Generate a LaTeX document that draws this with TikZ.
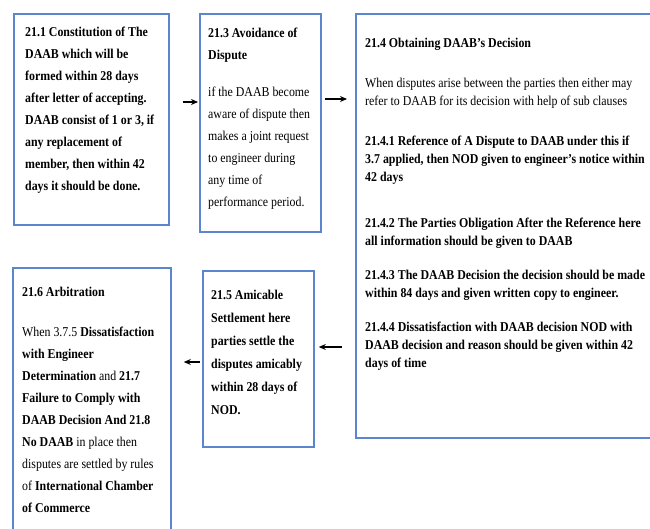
\documentclass[tikz,border=0pt]{standalone}
\usepackage{fontspec}
\setmainfont{Liberation Serif}[FakeStretch=0.88]
\usetikzlibrary{arrows.meta}
\definecolor{boxblue}{RGB}{92,133,208}
\begin{document}
\begin{tikzpicture}[x=1pt,y=-1pt,
  boxframe/.style={draw=boxblue, line width=1.8pt, fill=white, anchor=north west, inner sep=0pt},
  txt/.style={anchor=north west, inner sep=0pt, align=left, font=\fontsize{13.5}{22}\selectfont},
  txtsingle/.style={txt, font=\fontsize{13.5}{18}\selectfont},
  txtwide/.style={txt, font=\fontsize{13.5}{23}\selectfont},
  arr/.style={-{Stealth[length=7pt,width=6pt]}, line width=1.1pt, black}]
\clip (0,0) rectangle (650,529);
\fill[white] (0,0) rectangle (650,529);
% boxes
\node[boxframe, minimum width=155pt, minimum height=211pt] (b1) at (13,13) {};
\node[boxframe, minimum width=121pt, minimum height=218pt] (b2) at (199,13) {};
\node[boxframe, minimum width=310pt, minimum height=424pt] (b3) at (355,13) {};
\node[boxframe, minimum width=158pt, minimum height=290pt] (b4) at (12,267) {};
\node[boxframe, minimum width=111pt, minimum height=176pt] (b5) at (202,270) {};
% texts (north west = first baseline minus 9.3)
\node[txt] (t1) at (25,26.7) {\bfseries 21.1 Constitution of The\\\bfseries DAAB which will be\\\bfseries formed within 28 days\\\bfseries after letter of accepting.\\\bfseries DAAB consist of 1 or 3, if\\\bfseries any replacement of\\\bfseries member, then within 42\\\bfseries days it should be done.};
\node[txt] (t2) at (208,27.7) {\bfseries 21.3 Avoidance of\\\bfseries Dispute\\[15pt]if the DAAB become\\aware of dispute then\\makes a joint request\\to engineer during\\any time of\\performance period.};
\node[txtsingle] (t3) at (365,37.7) {\bfseries 21.4 Obtaining DAAB’s Decision\\[22pt]When disputes arise between the parties then either may\\refer to DAAB for its decision with help of sub clauses\\[22pt]\bfseries 21.4.1 Reference of A Dispute to DAAB under this if\\\bfseries 3.7 applied, then NOD given to engineer’s notice within\\\bfseries 42 days\\[28pt]\bfseries 21.4.2 The Parties Obligation After the Reference here\\\bfseries all information should be given to DAAB\\[16pt]\bfseries 21.4.3 The DAAB Decision the decision should be made\\\bfseries within 84 days and given written copy to engineer.\\[16pt]\bfseries 21.4.4 Dissatisfaction with DAAB decision NOD with\\\bfseries DAAB decision and reason should be given within 42\\\bfseries days of time};
\node[txt] (t4) at (22,286.7) {\bfseries 21.6 Arbitration\\[18pt]When 3.7.5 \textbf{Dissatisfaction}\\\bfseries with Engineer\\\textbf{Determination} and \textbf{21.7}\\\bfseries Failure to Comply with\\\bfseries DAAB Decision And 21.8\\\textbf{No DAAB} in place then\\disputes are settled by rules\\of \textbf{International Chamber}\\\bfseries of Commerce};
\node[txtwide] (t5) at (211,289.7) {\bfseries 21.5 Amicable\\\bfseries Settlement here\\\bfseries parties settle the\\\bfseries disputes amicably\\\bfseries within 28 days of\\\bfseries NOD.};
% arrows
\coordinate (ya) at (0,102);
\coordinate (yb) at (0,99);
\coordinate (yc) at (0,347);
\coordinate (yd) at (0,362);
\draw[arr, shorten <=13pt, shorten >=1pt] (b1.east |- ya) -- (b2.west |- ya);
\draw[arr, shorten <=3pt, shorten >=8pt] (b2.east |- yb) -- (b3.west |- yb);
\draw[arr, shorten <=13pt, shorten >=4pt] (b3.west |- yc) -- (b5.east |- yc);
\draw[arr, shorten <=2pt, shorten >=12pt] (b5.west |- yd) -- (b4.east |- yd);
\end{tikzpicture}
\end{document}
